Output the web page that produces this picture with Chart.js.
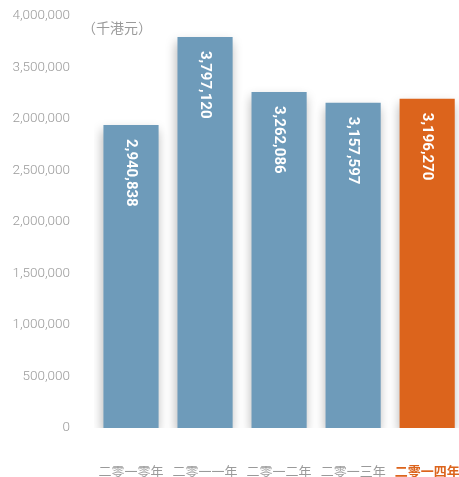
<!DOCTYPE html>
<html>
<head>
<meta charset="utf-8">
<script src="https://cdn.jsdelivr.net/npm/chart.js@4"></script>
<style>
  html, body { margin: 0; padding: 0; background: #fff; }
  #wrap { width: 459px; height: 477px; }
</style>
</head>
<body>
<div id="wrap"><canvas id="revenueChart" width="459" height="477"></canvas></div>
<script>
// 年份與收入（千港元）
const years = ['二零一零年', '二零一一年', '二零一二年', '二零一三年', '二零一四年'];
const revenue = [2940838, 3797120, 3262086, 3157597, 3196270];
const valueLabels = ['2,940,838', '3,797,120', '3,262,086', '3,157,597', '3,196,270'];
// y 軸刻度文字（照原圖）
const yTickLabels = ['0', '500,000', '1,000,000', '1,500,000', '2,000,000', '2,500,000', '2,000,000', '3,500,000', '4,000,000'];
const unitText = '（千港元）';

const blue = '#6e9bba';
const orange = '#dc641c';
const grey = '#9a9a9a';
const barColors = years.map((y, i) => i === years.length - 1 ? orange : blue);

// 陰影 + 柱內數字
const barExtras = {
    id: 'barExtras',
    beforeDatasetsDraw(chart) {
        const c = chart.ctx;
        c.save();
        c.shadowColor = 'rgba(0,0,0,0.28)';
        c.shadowBlur = 10;
        c.shadowOffsetX = -1;
        c.shadowOffsetY = 5;
    },
    afterDatasetsDraw(chart) {
        const c = chart.ctx;
        c.restore();
        const meta = chart.getDatasetMeta(0);
        c.save();
        c.fillStyle = '#fff';
        c.font = 'bold 15px Roboto';
        c.textAlign = 'left';
        c.textBaseline = 'middle';
        meta.data.forEach((bar, i) => {
            c.save();
            c.translate(bar.x, bar.y + 14);
            c.rotate(Math.PI / 2);
            c.fillText(valueLabels[i], 0, 0);
            c.restore();
        });
        // 單位
        c.fillStyle = grey;
        c.font = '14px "Noto Sans CJK TC"';
        c.textAlign = 'left';
        c.textBaseline = 'middle';
        c.fillText(unitText, 82, 28);
        c.restore();
    }
};

const ctx = document.getElementById('revenueChart').getContext('2d');
const revenueChart = new Chart(ctx, {
    type: 'bar',
    data: {
        datasets: [{
            data: revenue.map((v, i) => ({ x: i, y: v })),
            backgroundColor: barColors,
            borderWidth: 0,
            barPercentage: 1,
            categoryPercentage: 0.745
        }]
    },
    options: {
        responsive: false,
        animation: false,
        layout: { padding: 0 },
        plugins: {
            legend: { display: false },
            tooltip: { enabled: false }
        },
        scales: {
            x: {
                type: 'linear',
                offset: false,
                min: -0.5,
                max: 4.43,
                grid: { display: false, offset: false },
                border: { display: false },
                afterBuildTicks: (scale) => { scale.ticks = years.map((y, i) => ({ value: i })); },
                afterFit: (scale) => {
                    scale.height = 49;
                    scale.paddingLeft = 0;
                    scale.paddingRight = 0;
                },
                ticks: {
                    padding: 27,
                    autoSkip: false,
                    maxRotation: 0,
                    font: (c) => ({ family: '"Noto Sans CJK TC"', size: 13, weight: c.index === years.length - 1 ? 'bold' : 'normal' }),
                    color: (c) => c.index === years.length - 1 ? orange : grey,
                    callback: (v) => years[v]
                }
            },
            y: {
                min: 0,
                max: 4000000,
                grid: { display: false },
                border: { display: false },
                afterFit: (scale) => {
                    scale.width = 94;
                    scale.paddingTop = 16;
                    scale.paddingBottom = 0;
                },
                ticks: {
                    stepSize: 500000,
                    padding: 16,
                    color: grey,
                    font: { family: 'Roboto', size: 13.5, weight: 300 },
                    callback: (v) => yTickLabels[Math.round(v / 500000)]
                }
            }
        }
    },
    plugins: [barExtras]
});
</script>
</body>
</html>
